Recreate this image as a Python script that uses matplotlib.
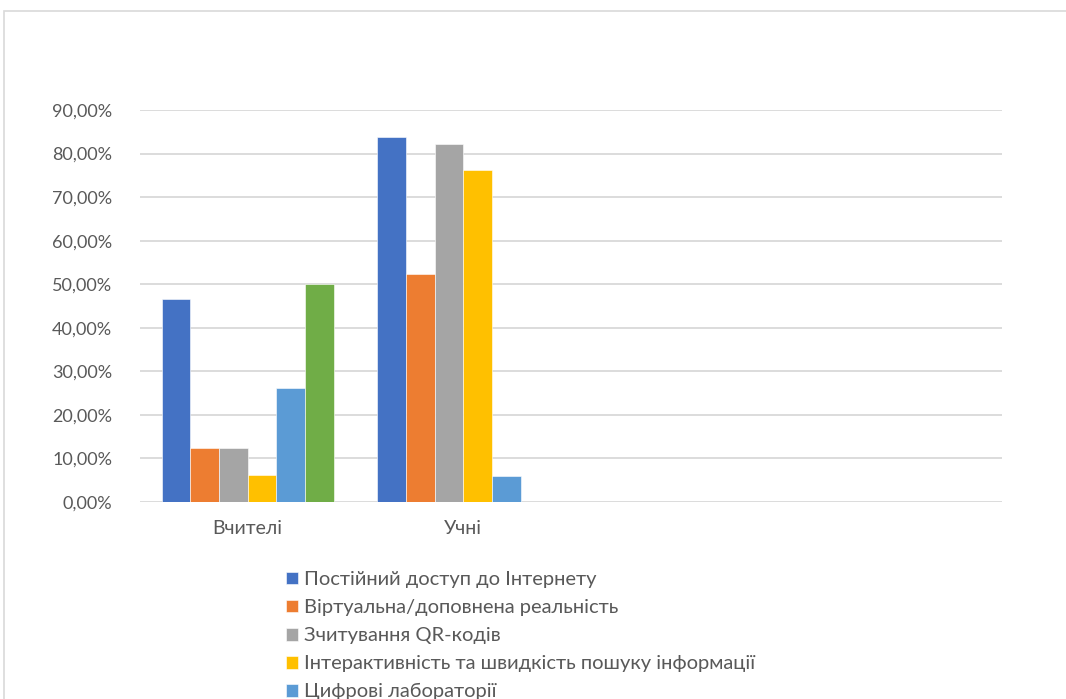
import matplotlib
matplotlib.use("Agg")
import matplotlib.pyplot as plt
from matplotlib.patches import Rectangle
from matplotlib.ticker import FuncFormatter
import numpy as np

plt.rcParams["font.family"] = ["Lato", "DejaVu Sans"]

categories = ["Вчителі", "Учні", "", ""]
series_names = [
    "Постійний доступ до Інтернету",
    "Віртуальна/доповнена реальність",
    "Зчитування QR-кодів",
    "Інтерактивність та швидкість пошуку інформації",
    "Цифрові лабораторії",
]
# share of respondents per series, one value per category (teachers, students)
internet = [0.467, 0.837]
vr_ar = [0.125, 0.524]
qr_codes = [0.125, 0.822]
interactive = [0.0625, 0.763]
digital_labs = [0.261, 0.059]
other = [0.50, 0.0]

series = [internet, vr_ar, qr_codes, interactive, digital_labs, other]
colors = ["#4472C4", "#ED7D31", "#A5A5A5", "#FFC000", "#5B9BD5", "#70AD47"]

W, H = 1066, 699
fig = plt.figure(figsize=(W / 100, H / 100), dpi=100)
ax = fig.add_axes([140 / W, 1 - 502 / H, (1002 - 140) / W, (502 - 110) / H])

n = len(series)
width = 0.8 / n
x = np.arange(len(categories))
handles = []
for i, (vals, col) in enumerate(zip(series, colors)):
    pos = x[:len(vals)] - 0.4 + width * (i + 0.5)
    b = ax.bar(pos, vals, width=width, color=col, edgecolor="white",
               linewidth=0.4, zorder=3)
    handles.append(b)

ax.set_xlim(-0.5, len(categories) - 0.5)
ax.set_ylim(0, 0.9)
ax.set_yticks(np.arange(0, 0.91, 0.1))
ax.yaxis.set_major_formatter(
    FuncFormatter(lambda v, _: f"{v * 100:.2f}%".replace(".", ",")))
ax.set_xticks(x)
ax.set_xticklabels(categories)
ax.tick_params(axis="both", length=0, labelsize=13, colors="#595959")
ax.tick_params(axis="x", labelsize=14, pad=13)
ax.tick_params(axis="y", pad=20)
ax.grid(axis="y", color="#d9d9d9", linewidth=1.3, zorder=0)
for s in ax.spines.values():
    s.set_visible(False)

# outer chart frame, runs past the right and bottom edges
fig.patches.append(Rectangle((4 / W, -0.1), 1.2, 1 - 11 / H + 0.1,
                             transform=fig.transFigure, fill=False,
                             edgecolor="#d9d9d9", linewidth=1.2))

leg = fig.legend(handles[:5], series_names, loc="upper left",
                 bbox_to_anchor=(276 / W, 1 - 561 / H), frameon=False,
                 fontsize=14.5, handlelength=0.6, handleheight=0.6,
                 handletextpad=0.3, labelspacing=0.55, borderpad=0,
                 labelcolor="#595959")

fig.savefig("out.png", dpi=100)
